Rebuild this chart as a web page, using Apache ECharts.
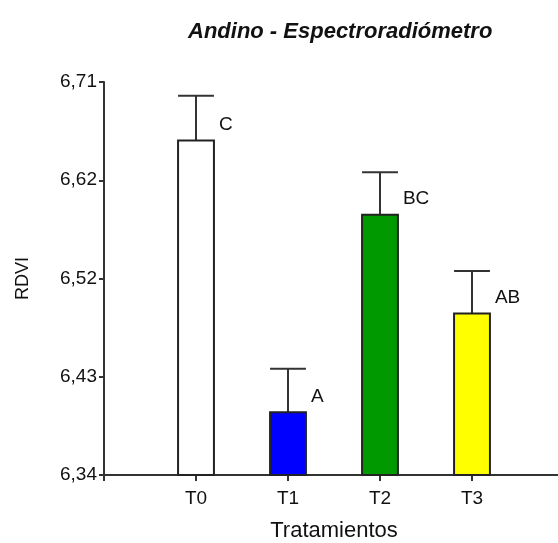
<!DOCTYPE html>
<html>
<head>
<meta charset="utf-8">
<script src="https://cdn.jsdelivr.net/npm/echarts@6/dist/echarts.min.js"></script>
<style>
  html, body { margin: 0; padding: 0; background: #fff; }
  #chart { width: 558px; height: 543px; }
</style>
</head>
<body>
<div id="chart"></div>
<script>
// Treatments, RDVI means, error-bar half-heights and significance letters
const categories = ['T0', 'T1', 'T2', 'T3'];
const means = [6.655, 6.399, 6.585, 6.492];
const errors = [0.042, 0.041, 0.040, 0.040];
const letters = ['C', 'A', 'BC', 'AB'];

// Y-axis tick positions and the labels printed at them
const yTickValues = [6.34, 6.4325, 6.525, 6.6175, 6.71];
const yTickLabels = ['6,34', '6,43', '6,52', '6,62', '6,71'];

const barColors = ['#ffffff', '#0000ff', '#009900', '#ffff00'];
const FONT = 'Liberation Sans, Arial, sans-serif';
const INK = '#111';

const seriesData = categories.map((c, i) => [i + 1, means[i], errors[i], letters[i]]);

const chart = echarts.init(document.getElementById('chart'), null, { renderer: 'canvas' });

chart.setOption({
  animation: false,
  backgroundColor: '#fff',
  title: {
    text: 'Andino - Espectroradiómetro',
    left: 183,
    top: 16,
    textStyle: {
      fontFamily: FONT,
      fontSize: 22,
      fontWeight: 'bold',
      fontStyle: 'italic',
      color: INK
    }
  },
  // fixed plot box; the x axis runs on past the right edge of the canvas
  grid: { left: 104, top: 82, width: 460, height: 393, containLabel: false, outerBoundsMode: 'none' },
  xAxis: {
    type: 'value',
    min: 0,
    max: 5,
    name: 'Tratamientos',
    nameLocation: 'middle',
    nameGap: 45,
    nameTextStyle: { fontFamily: FONT, fontSize: 22, color: INK },
    axisLine: { show: true, onZero: false, lineStyle: { color: '#333', width: 2 } },
    axisTick: { show: true, length: 6, customValues: [0, 1, 2, 3, 4], lineStyle: { color: '#333', width: 2 } },
    axisLabel: {
      customValues: [1, 2, 3, 4],
      margin: 14,
      fontFamily: FONT,
      fontSize: 19,
      color: INK,
      formatter: v => categories[Math.round(v) - 1] || ''
    },
    splitLine: { show: false }
  },
  yAxis: {
    type: 'value',
    min: 6.34,
    max: 6.71,
    name: 'RDVI',
    nameLocation: 'middle',
    nameGap: 72,
    nameRotate: 90,
    nameTextStyle: { fontFamily: FONT, fontSize: 18, color: INK },
    axisLine: { show: true, onZero: false, lineStyle: { color: '#333', width: 2 } },
    axisTick: { show: true, length: 5, customValues: yTickValues, lineStyle: { color: '#333', width: 2 } },
    axisLabel: {
      customValues: yTickValues,
      margin: 7,
      fontFamily: FONT,
      fontSize: 19,
      color: INK,
      formatter: v => {
        let best = 0;
        yTickValues.forEach((t, i) => { if (Math.abs(t - v) < Math.abs(yTickValues[best] - v)) best = i; });
        return yTickLabels[best];
      }
    },
    splitLine: { show: false }
  },
  series: [{
    type: 'custom',
    data: seriesData,
    encode: { x: 0, y: 1 },
    renderItem: (params, api) => {
      const x = api.value(0);
      const m = api.value(1);
      const e = api.value(2);
      const letter = letters[params.dataIndex];
      const base = api.coord([x, 6.34]);
      const top = api.coord([x, m]);
      const cap = api.coord([x, m + e]);
      const w = api.size([0.39, 0])[0];
      const left = top[0] - w / 2;
      return {
        type: 'group',
        children: [
          {
            type: 'line',
            shape: { x1: top[0], y1: top[1], x2: cap[0], y2: cap[1] },
            style: { stroke: '#333', lineWidth: 2 }
          },
          {
            type: 'line',
            shape: { x1: left, y1: cap[1], x2: left + w, y2: cap[1] },
            style: { stroke: '#333', lineWidth: 2 }
          },
          {
            type: 'rect',
            shape: { x: left, y: top[1], width: w, height: base[1] - top[1] },
            style: { fill: barColors[params.dataIndex], stroke: '#222', lineWidth: 2 }
          },
          {
            type: 'text',
            style: {
              text: letter,
              x: left + w + 5,
              y: top[1] - 16,
              verticalAlign: 'middle',
              align: 'left',
              font: '19px ' + FONT,
              fill: INK
            }
          }
        ]
      };
    }
  }]
});
</script>
</body>
</html>
